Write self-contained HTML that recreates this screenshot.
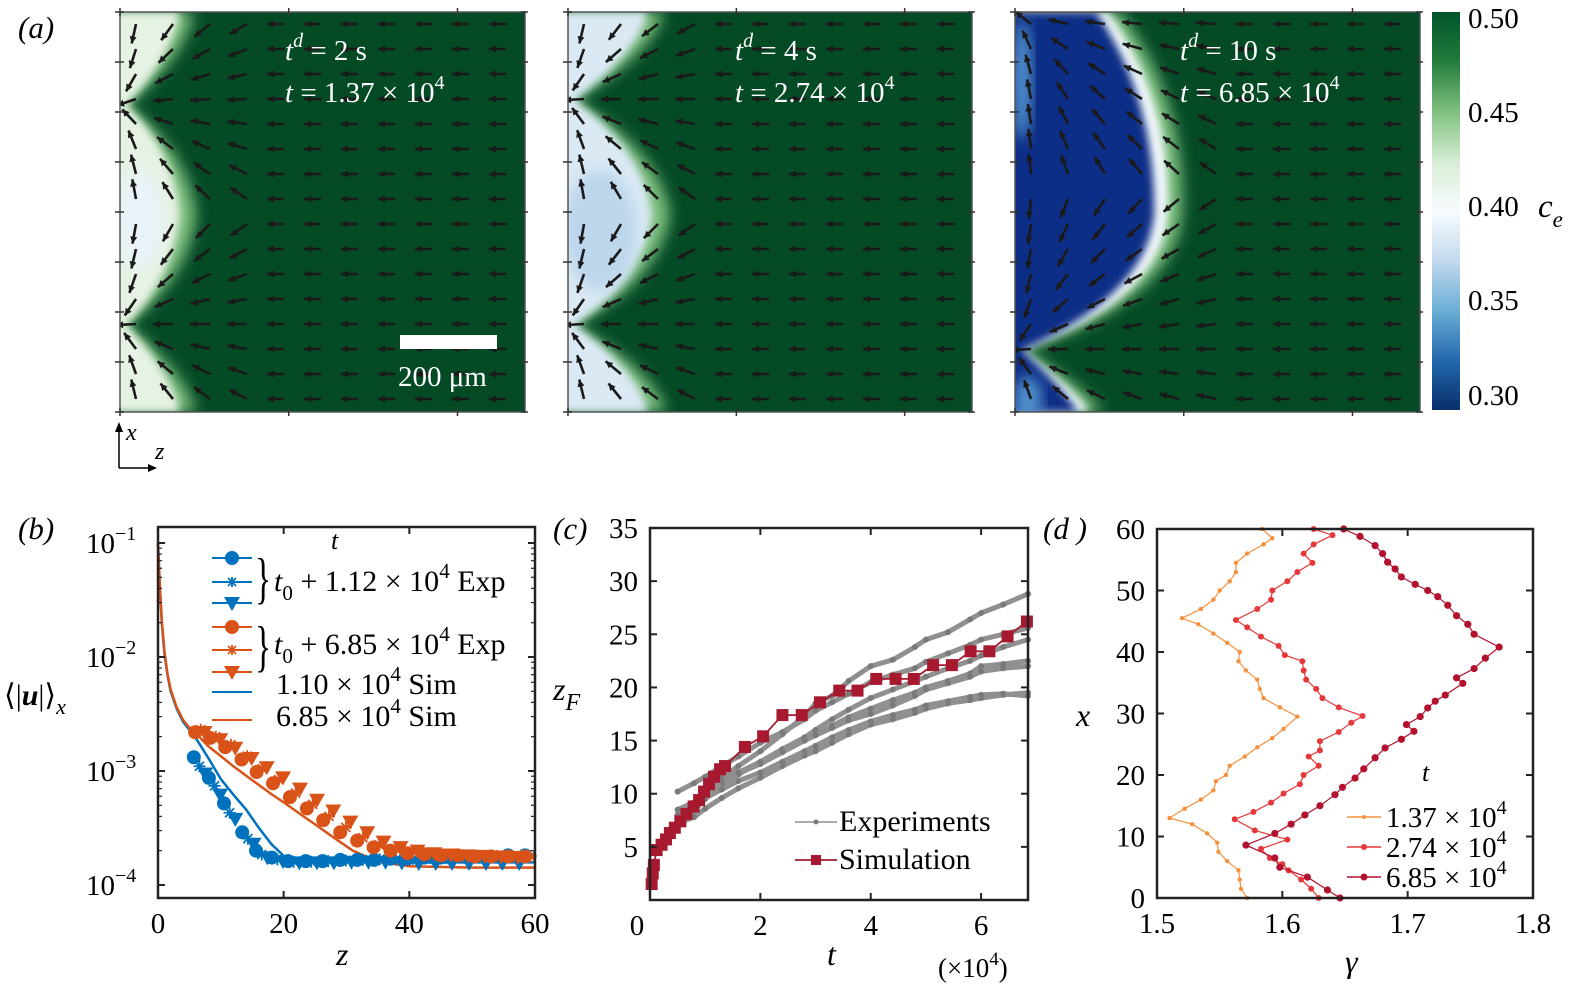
<!DOCTYPE html>
<html><head><meta charset="utf-8">
<style>
html,body{margin:0;padding:0;background:#fff;}
svg{display:block;font-family:"Liberation Serif","Times New Roman",serif;}
svg text{font-family:"Liberation Serif","Times New Roman",serif;}
</style></head>
<body>
<svg id="fig" width="1581" height="988" viewBox="0 0 1581 988" xmlns="http://www.w3.org/2000/svg" font-family="Liberation Serif, serif">
<defs>
<filter id="blur4" x="-20%" y="-20%" width="140%" height="140%"><feGaussianBlur stdDeviation="4"/></filter>
<filter id="blur7" x="-20%" y="-20%" width="140%" height="140%"><feGaussianBlur stdDeviation="7"/></filter>
<linearGradient id="cbar" x1="0" y1="0" x2="0" y2="1">
<stop offset="0" stop-color="#00542a"/><stop offset="0.12" stop-color="#1f7a3a"/><stop offset="0.25" stop-color="#7fc07e"/><stop offset="0.38" stop-color="#d9eed6"/><stop offset="0.5" stop-color="#f7fbff"/><stop offset="0.62" stop-color="#c6dbef"/><stop offset="0.75" stop-color="#6baed6"/><stop offset="0.88" stop-color="#2166ac"/><stop offset="1" stop-color="#08306b"/>
</linearGradient>
<clipPath id="c1"><rect x="120" y="12" width="405" height="400"/></clipPath>
<clipPath id="c2"><rect x="568" y="12" width="404" height="400"/></clipPath>
<clipPath id="c3"><rect x="1015" y="12" width="405" height="400"/></clipPath>
</defs>

<text x="18" y="38" font-size="31" font-style="italic">(a)</text>

<g clip-path="url(#c1)">
<rect x="120" y="12" width="405" height="400" fill="#044a25"/>
<path d="M110,12 L194,12 Q184,60 126,105 Q188,150 196,215 Q188,280 126,325 Q184,370 196,412 L110,412 Z" fill="#7dbf7f" filter="url(#blur7)"/>
<path d="M110,12 L180,12 Q170,60 126,105 Q174,150 180,215 Q172,280 126,325 Q170,370 180,412 L110,412 Z" fill="#e6f2e3" filter="url(#blur4)"/>
<ellipse cx="140" cy="220" rx="22" ry="50" fill="#eaf2fa" filter="url(#blur7)"/>
<g id="arrows1"></g>
</g>
<g clip-path="url(#c2)">
<rect x="568" y="12" width="404" height="400" fill="#044a25"/>
<path d="M558,12 L664,12 Q652,55 574,100 Q660,150 670,215 Q660,280 574,325 Q654,370 666,412 L558,412 Z" fill="#7dbf7f" filter="url(#blur7)"/>
<path d="M558,12 L648,12 Q636,55 574,100 Q644,150 652,215 Q644,280 574,325 Q638,370 648,412 L558,412 Z" fill="#dae9f4" filter="url(#blur4)"/>
<ellipse cx="600" cy="230" rx="36" ry="60" fill="#bcd6ec" filter="url(#blur7)"/>
<g id="arrows2"></g>
</g>
<g clip-path="url(#c3)">
<rect x="1015" y="12" width="405" height="400" fill="#044a25"/>
<path d="M1005,12 L1120,12 Q1187,100 1182,215 Q1174,300 1024,350 Q1080,385 1104,412 L1005,412 Z" fill="#7dbf7f" filter="url(#blur7)"/>
<path d="M1005,12 L1108,12 Q1172,100 1168,215 Q1160,300 1022,350 Q1070,385 1090,412 L1005,412 Z" fill="#f2f7fb" filter="url(#blur4)"/>
<path d="M1005,12 L1096,12 Q1156,100 1154,215 Q1146,295 1022,350 Q1060,385 1078,412 L1005,412 Z" fill="#0b2f86" filter="url(#blur4)"/>
<ellipse cx="1022" cy="80" rx="10" ry="60" fill="#4f8fca" filter="url(#blur7)"/>
<ellipse cx="1028" cy="400" rx="14" ry="24" fill="#4f8fca" filter="url(#blur7)"/>
<g id="arrows3"></g>
</g>
<g id="frames"></g>

<g fill="#fff" font-size="29">
<text x="285" y="60"><tspan font-style="italic">t</tspan><tspan dy="-13" font-size="20" font-style="italic">d</tspan><tspan dy="13"> = 2 s</tspan></text>
<text x="285" y="102"><tspan font-style="italic">t</tspan>  = 1.37 × 10<tspan dy="-13" font-size="20">4</tspan></text>
</g>
<g fill="#fff" font-size="29">
<text x="735" y="60"><tspan font-style="italic">t</tspan><tspan dy="-13" font-size="20" font-style="italic">d</tspan><tspan dy="13"> = 4 s</tspan></text>
<text x="735" y="102"><tspan font-style="italic">t</tspan>  = 2.74 × 10<tspan dy="-13" font-size="20">4</tspan></text>
</g>
<g fill="#fff" font-size="29">
<text x="1180" y="60"><tspan font-style="italic">t</tspan><tspan dy="-13" font-size="20" font-style="italic">d</tspan><tspan dy="13"> = 10 s</tspan></text>
<text x="1180" y="102"><tspan font-style="italic">t</tspan>  = 6.85 × 10<tspan dy="-13" font-size="20">4</tspan></text>
</g>
<rect x="400" y="335" width="97" height="14" fill="#fff"/>
<text x="398" y="386" font-size="29" fill="#fff">200 μm</text>

<g>
<line x1="119" y1="468" x2="119" y2="430" stroke="#000" stroke-width="1.5"/>
<path d="M115,432 L119,422 L123,432 Z" fill="#000"/>
<line x1="119" y1="468" x2="150" y2="468" stroke="#000" stroke-width="1.5"/>
<path d="M148,464 L157,468 L148,472 Z" fill="#000"/>
<text x="126" y="440" font-size="24" font-style="italic">x</text>
<text x="155" y="459" font-size="24" font-style="italic">z</text>
</g>

<g>
<rect x="1432" y="12" width="28" height="398" fill="url(#cbar)"/>
<g font-size="29">
<text x="1468" y="28">0.50</text><text x="1468" y="122">0.45</text><text x="1468" y="216">0.40</text><text x="1468" y="310">0.35</text><text x="1468" y="405">0.30</text>
</g>
<text x="1538" y="217" font-size="33" font-style="italic">c<tspan dy="10" font-size="23">e</tspan></text>
</g>

<text x="18" y="539" font-size="31" font-style="italic">(b)</text>
<g id="pb"></g>
<text x="553" y="539" font-size="31" font-style="italic">(c)</text>
<g id="pc"></g>
<text x="1043" y="539" font-size="31" font-style="italic">(d )</text>
<g id="pd"></g>
</svg>

<script>
// ---------- Panel (b) data ----------
const bBlueCircZ = [5.7,8.1,10.5,13.4,15.6,18.1,20.7,23.5,26.2,29,31.7,34.4,37,39.7,42.4,45,47.7,50.4,53,55.7,58.4];
const bBlueCircV = [1.32e-3,8.7e-4,5.2e-4,2.9e-4,2.0e-4,1.74e-4,1.62e-4,1.62e-4,1.62e-4,1.66e-4,1.66e-4,1.66e-4,1.70e-4,1.70e-4,1.74e-4,1.74e-4,1.78e-4,1.78e-4,1.78e-4,1.82e-4,1.82e-4];
const bBlueStarZ = [6.6,9.0,11.4,14.3,16.5,19,21.6,24.4,27.1,29.9,32.6,35.3,37.9,40.6,43.3,45.9,48.6,51.3,53.9,56.6,59.3];
const bBlueStarV = [1.1e-3,7.4e-4,4.3e-4,2.55e-4,1.85e-4,1.68e-4,1.6e-4,1.6e-4,1.62e-4,1.64e-4,1.66e-4,1.68e-4,1.68e-4,1.7e-4,1.72e-4,1.72e-4,1.74e-4,1.76e-4,1.76e-4,1.78e-4,1.8e-4];
const bBlueTriZ = [7.5,9.9,12.3,15.2,17.4,19.9,22.5,25.3,28,30.8,33.5,36.2,38.8,41.5,44.2,46.8,49.5,52.2,54.8,57.5];
const bBlueTriV = [9.5e-4,6.2e-4,3.8e-4,2.3e-4,1.75e-4,1.62e-4,1.58e-4,1.58e-4,1.58e-4,1.6e-4,1.6e-4,1.6e-4,1.58e-4,1.56e-4,1.56e-4,1.56e-4,1.56e-4,1.56e-4,1.56e-4,1.56e-4];
const bOrCircZ = [5.9,8.3,10.7,13.3,15.7,18.3,21,23.7,26.3,29,31.7,34.3,37,39.7,42.4,45,47.7,50.4,53,55.7,58.4];
const bOrCircV = [2.19e-3,1.95e-3,1.62e-3,1.26e-3,9.8e-4,7.8e-4,5.9e-4,4.7e-4,3.7e-4,2.9e-4,2.45e-4,2.14e-4,2.0e-4,1.9e-4,1.86e-4,1.82e-4,1.82e-4,1.78e-4,1.78e-4,1.78e-4,1.78e-4];
const bOrStarZ = [6.8,9.2,11.6,14.2,16.6,19.2,21.9,24.6,27.2,29.9,32.6,35.2,37.9,40.6,43.3,45.9,48.6,51.3,53.9,56.6,59.3];
const bOrStarV = [2.3e-3,2.0e-3,1.7e-3,1.35e-3,1.05e-3,8.4e-4,6.4e-4,5.1e-4,4.0e-4,3.2e-4,2.6e-4,2.25e-4,2.05e-4,1.95e-4,1.88e-4,1.84e-4,1.82e-4,1.8e-4,1.8e-4,1.78e-4,1.78e-4];
const bOrTriZ = [7.4,9.9,12.3,14.9,17.3,19.9,22.6,25.3,27.9,30.6,33.3,35.9,38.6,41.3,44,46.6,49.3,52,54.6,57.3];
const bOrTriV = [2.2e-3,1.9e-3,1.6e-3,1.3e-3,1.08e-3,8.8e-4,7.0e-4,5.6e-4,4.5e-4,3.6e-4,2.9e-4,2.4e-4,2.15e-4,2.0e-4,1.9e-4,1.85e-4,1.82e-4,1.8e-4,1.78e-4,1.76e-4];
const bSimBlueZ = [0,0.3,0.6,1,1.5,2,3,4,5,6,8,10,12,14,16,18,20,22,25,30,40,50,60];
const bSimBlueV = [1e-1,4e-2,2e-2,1.1e-2,7e-3,5e-3,3.5e-3,2.7e-3,2.3e-3,1.95e-3,1.3e-3,8.5e-4,6.2e-4,4.6e-4,3.2e-4,2.3e-4,1.8e-4,1.62e-4,1.58e-4,1.58e-4,1.58e-4,1.58e-4,1.58e-4];
const bSimOrZ = [0,0.3,0.6,1,1.5,2,3,4,5,6,8,10,12,15,18,20,22.6,25,28,31,35,40,50,60];
const bSimOrV = [1e-1,4.2e-2,2.1e-2,1.15e-2,7.2e-3,5.2e-3,3.6e-3,2.8e-3,2.4e-3,2.15e-3,1.65e-3,1.35e-3,1.1e-3,8.3e-4,6.3e-4,5.3e-4,4.2e-4,3.4e-4,2.6e-4,2.0e-4,1.6e-4,1.46e-4,1.42e-4,1.42e-4];
const bXTicks = [0,20,40,60];
const bYTicks = [-1,-2,-3,-4];

// ---------- Panel (c) data ----------
const cSimT = [0.03,0.05,0.07,0.12,0.21,0.29,0.36,0.45,0.55,0.66,0.79,0.89,0.98,1.07,1.16,1.27,1.36,1.72,2.05,2.40,2.75,3.08,3.43,3.76,4.10,4.45,4.78,5.13,5.47,5.81,6.15,6.48,6.83];
const cSimZ = [1.5,2.5,3.3,4.7,5.2,5.7,6.3,6.8,7.4,8.1,8.8,9.4,10.2,10.9,11.6,12.3,12.6,14.4,15.4,17.4,17.4,18.6,19.7,19.7,20.8,20.8,20.8,22.1,22.1,23.4,23.4,24.8,26.2];
const cExpT = [0.5,0.8,1.0,1.3,1.6,2.0,2.4,2.8,3.0,3.3,3.6,4.0,4.4,4.8,5.0,5.4,5.8,6.0,6.4,6.85];
const cExpA = [7.5,9.0,10.0,11.5,12.6,14.0,15.6,17.3,18.5,19.2,20.6,22.0,22.6,23.8,24.5,25.2,26.4,27.0,27.8,28.8];
const cExpB = [10.2,11.0,11.6,12.6,13.5,14.8,15.8,17.0,17.8,18.6,19.4,20.5,21.2,21.8,22.4,23.2,24.0,24.5,25.0,25.6];
const cExpC = [7.0,8.4,9.5,10.8,11.8,13.0,14.2,15.3,16.0,17.0,17.9,19.0,19.8,20.6,21.0,21.8,22.5,23.0,23.8,24.5];
const cExpD = [8.0,9.0,9.8,11.0,11.9,12.8,13.9,15.0,15.5,16.4,17.2,18.0,18.8,19.5,20.0,20.6,21.3,22.0,22.2,22.5];
const cExpE = [7.2,7.8,8.6,9.6,10.5,11.5,12.6,13.6,14.0,14.8,15.6,16.5,17.0,17.6,18.0,18.5,18.8,19.0,19.3,19.5];
const cExpF = [8.5,9.2,9.6,10.4,11.2,12.0,13.0,14.0,14.5,15.3,16.0,16.8,17.4,17.9,18.3,18.7,19.1,19.3,19.4,19.2];
const cExpG = [8.0,9.0,10.0,11.2,12.0,13.0,14.0,15.0,15.5,16.2,16.9,17.5,18.3,19.2,19.8,20.4,21.0,21.5,21.8,22.0];
const cXTicks = [0,2,4,6];
const cYTicks = [5,10,15,20,25,30,35];

// ---------- Panel (d) data ----------
const dX1 = [0,1.5,3,4.5,6,7.5,9,10.5,12,13,14.5,16,17.5,19,20,21.5,23,24.5,26,27.5,29.5,31,32.5,34,35.5,37,38.5,40,41.5,43,44.5,45.5,47,48.5,50,51.5,53,54.5,56,57.5,58.5,60];
const dG1 = [1.572,1.567,1.566,1.565,1.556,1.549,1.548,1.540,1.528,1.510,1.522,1.535,1.545,1.547,1.555,1.558,1.57,1.580,1.592,1.601,1.612,1.598,1.585,1.582,1.580,1.571,1.565,1.566,1.556,1.545,1.533,1.520,1.535,1.545,1.550,1.558,1.563,1.563,1.572,1.585,1.592,1.584];
const dX2 = [0,1.5,3,4.5,5.5,6.5,8,9.5,11,12.8,14,15.5,17,18.5,20,21.5,23,24,25.5,27,28.5,29.6,31,32.5,34,35.5,37,38.5,39.5,41,42.5,44,45.2,47,48.5,50,51.5,53,54.5,56,57.5,59,60];
const dG2 = [1.629,1.623,1.615,1.605,1.60,1.59,1.583,1.604,1.578,1.562,1.577,1.591,1.601,1.614,1.617,1.629,1.621,1.630,1.630,1.645,1.655,1.664,1.645,1.632,1.627,1.619,1.617,1.616,1.602,1.597,1.583,1.572,1.563,1.580,1.591,1.592,1.604,1.612,1.624,1.617,1.625,1.640,1.625];
const dX3 = [0,1.3,3.4,5,6.5,8.6,10.5,12,13.5,15,16.8,18,19.5,21,22.8,24.4,25.8,27.1,28.2,29.5,30.9,32,33,34.9,35.8,37.3,39,40.8,42.9,44.5,45.9,47.6,49,50,51,52.2,53.5,54.6,56,57.3,58.8,60];
const dG3 = [1.646,1.636,1.620,1.598,1.594,1.571,1.594,1.607,1.618,1.630,1.642,1.648,1.658,1.665,1.674,1.682,1.695,1.705,1.699,1.710,1.716,1.722,1.730,1.744,1.739,1.753,1.762,1.773,1.753,1.748,1.739,1.732,1.724,1.716,1.706,1.695,1.690,1.684,1.680,1.674,1.662,1.649];
const dXTicks = [1.5,1.6,1.7,1.8];
const dYTicks = [0,10,20,30,40,50,60];

const NS = "http://www.w3.org/2000/svg";
function mk(parent, tag, attrs, text){
  const e = document.createElementNS(NS, tag);
  for (const k in attrs) e.setAttribute(k, attrs[k]);
  if (text !== undefined) e.textContent = text;
  parent.appendChild(e);
  return e;
}
function pathD(xs, ys, fx, fy){
  return xs.map((v,i)=>(i?'L':'M')+fx(v).toFixed(1)+','+fy(ys[i]).toFixed(1)).join(' ');
}

function quiver(gid, x0, front, notchYs){
  const g = document.getElementById(gid);
  for (let c=0;c<11;c++){
    for (let r=0;r<16;r++){
      const x = x0+16+c*37, y = 24+r*25;
      let ang = Math.PI;
      let nearest = notchYs.reduce((a,b)=>Math.abs(b-y)<Math.abs(a-y)?b:a);
      const dx = x - x0, dy = nearest - y;
      if (dx < front+70){ ang = Math.atan2(dy*0.9, -dx); }
      const L = dx < front+70 ? 20 : 17;
      const x2 = x + L*Math.cos(ang), y2 = y + L*Math.sin(ang);
      const a = mk(g,'line',{x1:x,y1:y,x2:x2.toFixed(1),y2:y2.toFixed(1),stroke:'#1a1a1a','stroke-width':2.6});
      
      
      const hx = x2, hy = y2;
      const p = [[hx,hy],[hx-7*Math.cos(ang)+3.5*Math.sin(ang), hy-7*Math.sin(ang)-3.5*Math.cos(ang)],[hx-7*Math.cos(ang)-3.5*Math.sin(ang), hy-7*Math.sin(ang)+3.5*Math.cos(ang)]];
      mk(g,'polygon',{points:p.map(q=>q[0].toFixed(1)+','+q[1].toFixed(1)).join(' '),fill:'#1a1a1a'});
    }
  }
}
quiver('arrows1',120,70,[105,325]);
quiver('arrows2',568,90,[100,325]);
quiver('arrows3',1015,150,[10,350]);
(function(){
  const g = document.getElementById('frames');
  [[120,525],[568,972],[1015,1420]].forEach(([a,b])=>{
    mk(g,'rect',{x:a,y:12,width:b-a,height:400,fill:'none',stroke:'#555','stroke-width':1.5});
    for (let k=0;k<9;k++){ const y=12+k*50; mk(g,'line',{x1:a-5,y1:y,x2:a+4,y2:y,stroke:'#333','stroke-width':1.5}); mk(g,'line',{x1:b-4,y1:y,x2:b+3,y2:y,stroke:'#333','stroke-width':1.5}); }
    for (let k=0;k<3;k++){ const x=a+k*(b-a)/2.4; mk(g,'line',{x1:x,y1:8,x2:x,y2:16,stroke:'#333','stroke-width':1.5}); mk(g,'line',{x1:x,y1:408,x2:x,y2:416,stroke:'#333','stroke-width':1.5}); }
  });
})();

// ---------- Panel (b) ----------
(function(){
  const g = document.getElementById('pb');
  const L=158,R=535,T=527,B=898;
  const fx = z => L + (z-0)/60*(R-L);
  const fy = v => 543 + (-1 - Math.log10(v))*114;
  const blue='#0072bd', org='#d95319';
  const sb = mk(g,'path',{d:pathD(bSimBlueZ,bSimBlueV,fx,fy),fill:'none',stroke:blue,'stroke-width':2.5});
  
  
  const so = mk(g,'path',{d:pathD(bSimOrZ,bSimOrV,fx,fy),fill:'none',stroke:org,'stroke-width':2.5});
  
  
  function circ(zs,vs,col,name){ zs.forEach((z,i)=>{ const c=mk(g,'circle',{cx:fx(z),cy:fy(vs[i]),r:7,fill:col});
    
     }); }
  function star(zs,vs,col,name){ zs.forEach((z,i)=>{ const x=fx(z),y=fy(vs[i]); const s=mk(g,'path',{d:`M${x-6},${y}L${x+6},${y}M${x},${y-6}L${x},${y+6}M${x-4.5},${y-4.5}L${x+4.5},${y+4.5}M${x-4.5},${y+4.5}L${x+4.5},${y-4.5}`,stroke:col,'stroke-width':1.8});
    
     }); }
  function tri(zs,vs,col,name){ zs.forEach((z,i)=>{ const x=fx(z),y=fy(vs[i]); const t=mk(g,'path',{d:`M${x-8},${y-6}L${x+8},${y-6}L${x},${y+8}Z`,fill:col});
    
     }); }
  tri(bBlueTriZ,bBlueTriV,blue,'exp-blue-triangle');
  star(bBlueStarZ,bBlueStarV,blue,'exp-blue-star');
  circ(bBlueCircZ,bBlueCircV,blue,'exp-blue-circle');
  tri(bOrTriZ,bOrTriV,org,'exp-orange-triangle');
  star(bOrStarZ,bOrStarV,org,'exp-orange-star');
  circ(bOrCircZ,bOrCircV,org,'exp-orange-circle');
  const fr = mk(g,'rect',{x:L,y:T,width:R-L,height:B-T,fill:'none',stroke:'#222','stroke-width':2.5});
  
  
  bXTicks.forEach(t=>{ const x=fx(t); mk(g,'line',{x1:x,y1:B,x2:x,y2:B-7,stroke:'#222','stroke-width':2}); mk(g,'line',{x1:x,y1:T,x2:x,y2:T+7,stroke:'#222','stroke-width':2});
    const tl=mk(g,'text',{x:x,y:B+35,'font-size':29,'text-anchor':'middle'},String(t));
    
     });
  bYTicks.forEach(p=>{ const y=fy(Math.pow(10,p)); mk(g,'line',{x1:L,y1:y,x2:L+7,y2:y,stroke:'#222','stroke-width':2}); mk(g,'line',{x1:R,y1:y,x2:R-7,y2:y,stroke:'#222','stroke-width':2});
    for (let m=2;m<10;m++){ const yy=fy(m*Math.pow(10,p)); if(yy>T&&yy<B){ mk(g,'line',{x1:L,y1:yy,x2:L+4,y2:yy,stroke:'#222','stroke-width':1.2}); mk(g,'line',{x1:R,y1:yy,x2:R-4,y2:yy,stroke:'#222','stroke-width':1.2}); } }
    const tl=mk(g,'text',{x:86,y:y+10,'font-size':29});
    tl.innerHTML='10<tspan dy="-13" font-size="20">−'+(-p)+'</tspan>';
    
     });
  const xl=mk(g,'text',{x:336,y:965,'font-size':32,'font-style':'italic'},'z');
  
  
  const yl=mk(g,'text',{x:4,y:705,'font-size':30});
  yl.innerHTML='⟨|<tspan font-weight="bold" font-style="italic">u</tspan>|⟩<tspan dy="9" font-size="22" font-style="italic">x</tspan>';
  
  
  const lg = mk(g,'g',{});
  
  
  mk(lg,'text',{x:331,y:549,'font-size':26,'font-style':'italic'},'t');
  const rows=[[558,blue,'c'],[582,blue,'s'],[603,blue,'t'],[627,org,'c'],[650,org,'s'],[672,org,'t'],[692,blue,'l'],[720,org,'l']];
  rows.forEach(([y,col,k])=>{ mk(lg,'line',{x1:212,y1:y,x2:252,y2:y,stroke:col,'stroke-width':2});
    const x=232;
    if(k==='c') mk(lg,'circle',{cx:x,cy:y,r:7,fill:col});
    if(k==='s') mk(lg,'path',{d:`M${x-5},${y}L${x+5},${y}M${x},${y-5}L${x},${y+5}M${x-4},${y-4}L${x+4},${y+4}M${x-4},${y+4}L${x+4},${y-4}`,stroke:col,'stroke-width':1.8});
    if(k==='t') mk(lg,'path',{d:`M${x-8},${y-6}L${x+8},${y-6}L${x},${y+8}Z`,fill:col});
  });
  mk(lg,'text',{x:255,y:597,'font-size':56,'transform':'scale(0.6,1) translate(170,0)'},'}');
  mk(lg,'text',{x:255,y:665,'font-size':56,'transform':'scale(0.6,1) translate(170,0)'},'}');
  const t1=mk(lg,'text',{x:274,y:591,'font-size':30}); t1.innerHTML='<tspan font-style="italic">t</tspan><tspan dy="9" font-size="21">0</tspan><tspan dy="-9"> + 1.12 × 10</tspan><tspan dy="-13" font-size="21">4</tspan><tspan dy="13"> Exp</tspan>';
  const t2=mk(lg,'text',{x:274,y:654,'font-size':30}); t2.innerHTML='<tspan font-style="italic">t</tspan><tspan dy="9" font-size="21">0</tspan><tspan dy="-9"> + 6.85 × 10</tspan><tspan dy="-13" font-size="21">4</tspan><tspan dy="13"> Exp</tspan>';
  const t3=mk(lg,'text',{x:276,y:694,'font-size':30}); t3.innerHTML='1.10 × 10<tspan dy="-13" font-size="21">4</tspan><tspan dy="13"> Sim</tspan>';
  const t4=mk(lg,'text',{x:276,y:726,'font-size':30}); t4.innerHTML='6.85 × 10<tspan dy="-13" font-size="21">4</tspan><tspan dy="13"> Sim</tspan>';
})();

// ---------- Panel (c) ----------
(function(){
  const g = document.getElementById('pc');
  const L=650,R=1028,T=528,B=900;
  const fx = t => L + t/6.85*(R-L);
  const fy = z => B - z/35*(B-T);
  const gray='#909090';
  [cExpA,cExpB,cExpC,cExpD,cExpE,cExpF,cExpG].forEach(s=>{
    const p=mk(g,'path',{d:pathD(cExpT,s,fx,fy),fill:'none',stroke:gray,'stroke-width':5,'stroke-linejoin':'round'});
    
    
    cExpT.forEach((t,i)=>{ const d=mk(g,'circle',{cx:fx(t),cy:fy(s[i]),r:3,fill:'#7a7a7a'});
      
       });
  });
  const red='#a6192e';
  const sl=mk(g,'path',{d:pathD(cSimT,cSimZ,fx,fy),fill:'none',stroke:red,'stroke-width':1.8});
  
  
  cSimT.forEach((t,i)=>{ const q=mk(g,'rect',{x:fx(t)-6,y:fy(cSimZ[i])-6,width:12,height:12,fill:red});
    
     });
  const fr=mk(g,'rect',{x:L,y:T,width:R-L,height:B-T,fill:'none',stroke:'#222','stroke-width':2.5});
  
  
  cXTicks.forEach(t=>{ const x=fx(t); mk(g,'line',{x1:x,y1:B,x2:x,y2:B-7,stroke:'#222','stroke-width':2}); mk(g,'line',{x1:x,y1:T,x2:x,y2:T+7,stroke:'#222','stroke-width':2});
    const tl=mk(g,'text',{x:(t===0?x-13:x),y:B+35,'font-size':29,'text-anchor':'middle'},String(t));
    
     });
  cYTicks.forEach(z=>{ const y=fy(z); mk(g,'line',{x1:L,y1:y,x2:L+7,y2:y,stroke:'#222','stroke-width':2}); mk(g,'line',{x1:R,y1:y,x2:R-7,y2:y,stroke:'#222','stroke-width':2});
    const tl=mk(g,'text',{x:L-12,y:y+10,'font-size':29,'text-anchor':'end'},String(z));
    
     });
  const xl=mk(g,'text',{x:827,y:965,'font-size':32,'font-style':'italic'},'t');
  
  
  const xs=mk(g,'text',{x:938,y:977,'font-size':27}); xs.innerHTML='(×10<tspan dy="-12" font-size="19">4</tspan><tspan dy="12">)</tspan>';
  
  
  const yl=mk(g,'text',{x:553,y:700,'font-size':32,'font-style':'italic'}); yl.innerHTML='z<tspan dy="10" font-size="24">F</tspan>';
  
  
  const lg=mk(g,'g',{});
  
  
  mk(lg,'line',{x1:795,y1:822,x2:837,y2:822,stroke:gray,'stroke-width':1.5});
  mk(lg,'circle',{cx:816,cy:822,r:2.5,fill:'#777'});
  mk(lg,'text',{x:839,y:831,'font-size':30},'Experiments');
  mk(lg,'line',{x1:795,y1:860,x2:837,y2:860,stroke:red,'stroke-width':1.8});
  mk(lg,'rect',{x:811,y:855,width:10,height:10,fill:red});
  mk(lg,'text',{x:839,y:869,'font-size':30},'Simulation');
})();

// ---------- Panel (d) ----------
(function(){
  const g = document.getElementById('pd');
  const L=1157,R=1533,T=529,B=898;
  const fx = v => L + (v-1.5)/0.3*(R-L);
  const fy = x => B - x/60*(B-T);
  const series=[[dX1,dG1,'#f5913e',2.2,'gamma-t1.37e4'],[dX2,dG2,'#e5383b',3,'gamma-t2.74e4'],[dX3,dG3,'#b3122e',3.6,'gamma-t6.85e4']];
  series.forEach(([xs,gs,col,r,name])=>{
    const p=mk(g,'path',{d:pathD(gs,xs,fx,fy),fill:'none',stroke:col,'stroke-width':1.2});
    
    
    gs.forEach((v,i)=>{ const c=mk(g,'circle',{cx:fx(v),cy:fy(xs[i]),r:r,fill:col});
      
       });
  });
  const fr=mk(g,'rect',{x:L,y:T,width:R-L,height:B-T,fill:'none',stroke:'#222','stroke-width':2.5});
  
  
  dXTicks.forEach(t=>{ const x=fx(t); mk(g,'line',{x1:x,y1:B,x2:x,y2:B-7,stroke:'#222','stroke-width':2}); mk(g,'line',{x1:x,y1:T,x2:x,y2:T+7,stroke:'#222','stroke-width':2});
    const tl=mk(g,'text',{x:x,y:B+35,'font-size':29,'text-anchor':'middle'},t.toFixed(1));
    
     });
  dYTicks.forEach(z=>{ const y=fy(z); mk(g,'line',{x1:L,y1:y,x2:L+7,y2:y,stroke:'#222','stroke-width':2}); mk(g,'line',{x1:R,y1:y,x2:R-7,y2:y,stroke:'#222','stroke-width':2});
    const tl=mk(g,'text',{x:L-12,y:y+10,'font-size':29,'text-anchor':'end'},String(z));
    
     });
  const xl=mk(g,'text',{x:1345,y:972,'font-size':32,'font-style':'italic'},'γ');
  
  
  const yl=mk(g,'text',{x:1076,y:726,'font-size':32,'font-style':'italic'},'x');
  
  
  const lg=mk(g,'g',{});
  
  
  mk(lg,'text',{x:1422,y:781,'font-size':26,'font-style':'italic'},'t');
  [[817,'#f5913e',2,'1.37'],[847,'#e5383b',3,'2.74'],[877,'#b3122e',3.5,'6.85']].forEach(([y,c,r,lab])=>{
    mk(lg,'line',{x1:1347,y1:y,x2:1381,y2:y,stroke:c,'stroke-width':1.5});
    mk(lg,'circle',{cx:1364,cy:y,r:r,fill:c});
    const t=mk(lg,'text',{x:1386,y:y+10,'font-size':29}); t.innerHTML=lab+' × 10<tspan dy="-13" font-size="20">4</tspan>';
  });
})();
</script>
</body></html>
